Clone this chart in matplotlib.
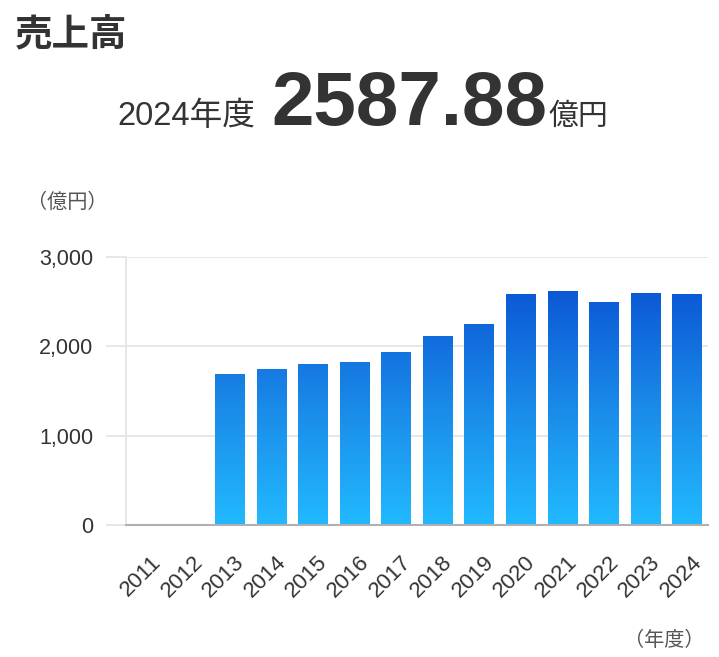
import matplotlib
matplotlib.use('Agg')
import matplotlib.pyplot as plt
import matplotlib.transforms as mtransforms
from matplotlib.colors import LinearSegmentedColormap
import numpy as np

plt.rcParams['font.family'] = ['Liberation Sans', 'Noto Sans CJK JP', 'DejaVu Sans']

# data (億円)
years = ['2011', '2012', '2013', '2014', '2015', '2016', '2017',
         '2018', '2019', '2020', '2021', '2022', '2023', '2024']
sales = [np.nan, np.nan, 1690, 1746, 1797, 1826, 1936,
         2110, 2252, 2578, 2612, 2489, 2592, 2587.88]
yticks = [0, 1000, 2000, 3000]
ytick_labels = ['0', '1,000', '2,000', '3,000']

fig = plt.figure(figsize=(7.19, 6.57), dpi=100)
ax = fig.add_axes([0.1752, 0.2002, 0.8095, 0.4091])

x = np.arange(len(years))
bars = ax.bar(x, sales, width=0.72, color='none', edgecolor='none', zorder=3)

# vertical gradient shared by all bars (light cyan at 0, deep blue at top)
cmap = LinearSegmentedColormap.from_list('blu', ['#22b9ff', '#1a8ae8', '#0b57d5'])
grad = np.linspace(1, 0, 256).reshape(-1, 1)
gtop = 2650
for b, v in zip(bars, sales):
    if np.isnan(v):
        continue
    x0 = b.get_x()
    im = ax.imshow(grad, cmap=cmap, aspect='auto', interpolation='bicubic',
                   extent=[x0, x0 + b.get_width(), 0, gtop], zorder=3)
    im.set_clip_path(b)

ax.set_xlim(-0.5, len(years) - 0.5)
ax.set_ylim(0, 3000)

ax.set_yticks(yticks)
ax.set_yticklabels(ytick_labels, fontsize=15.5, color='#333333')
ax.tick_params(axis='y', length=14.4, width=1.2, color='#e3e3e3', pad=9)
ax.yaxis.grid(True, color='#e3e3e3', lw=1.2, zorder=0)
ax.set_axisbelow(True)
ax.yaxis.get_major_ticks()[0].tick1line.set_color('#b0b0b0')

ax.set_xticks(x)
ax.set_xticklabels(years, fontsize=16, color='#333333', rotation=45,
                   ha='right', va='top', rotation_mode='anchor')
ax.tick_params(axis='x', length=0, pad=19)
off = mtransforms.ScaledTranslation(4 / 100, 0, fig.dpi_scale_trans)
for lab in ax.get_xticklabels():
    lab.set_transform(lab.get_transform() + off)

for s in ['top', 'right']:
    ax.spines[s].set_visible(False)
ax.spines['left'].set_color('#e3e3e3')
ax.spines['left'].set_linewidth(1.2)
ax.spines['bottom'].set_color('#b0b0b0')
ax.spines['bottom'].set_linewidth(1.5)
ax.spines['bottom'].set_zorder(4)

# headings
fig.text(15 / 719, 1 - 17 / 657, '売上高', fontsize=27, fontweight='bold',
         color='#333333', ha='left', va='top')
base = 1 - 125 / 657
fig.text(117 / 719, base, '2024年度', fontsize=23.5, color='#333333',
         ha='left', va='baseline')
fig.text(271 / 719, base, '2587.88', fontsize=55, fontweight='bold',
         color='#333333', ha='left', va='baseline')
fig.text(548 / 719, base, '億円', fontsize=21.5, color='#333333',
         ha='left', va='baseline')

fig.text(27 / 719, 1 - 202 / 657, '（億円）', fontsize=14.5, color='#555555',
         ha='left', va='center')
fig.text(705 / 719, 1 - 640 / 657, '（年度）', fontsize=14.5, color='#555555',
         ha='right', va='center')

fig.savefig('out.png', dpi=100, facecolor='white')
